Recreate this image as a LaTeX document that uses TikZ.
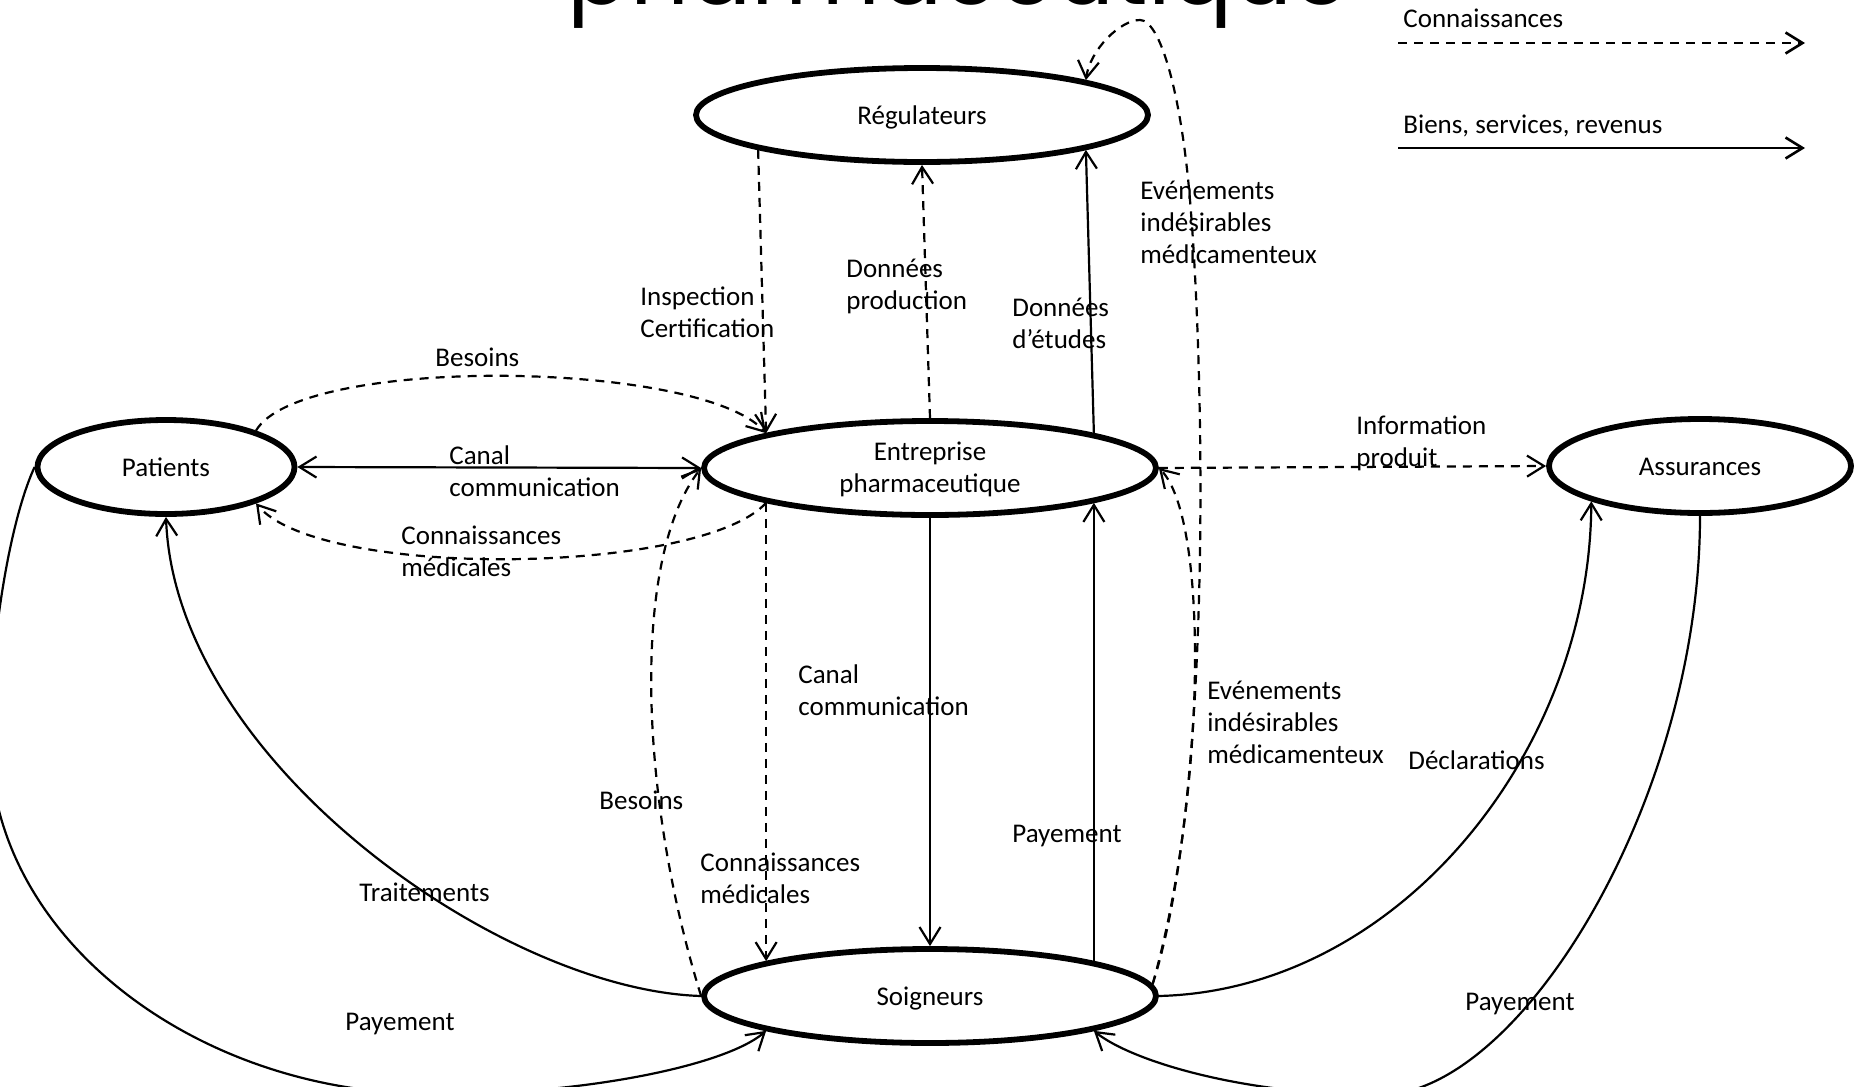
\documentclass[tikz,border=0pt]{standalone}
\usepackage{fontspec}
\setmainfont{Carlito}
\newfontfamily\titlefont{Poppins}
\usetikzlibrary{arrows.meta,shapes.geometric}

\begin{document}
\begin{tikzpicture}[x=0.5pt,y=-0.5pt,
  >={Straight Barb[length=8.5pt,width=10.5pt]},
  actor/.style={ellipse,draw,line width=2.9pt,minimum height=47pt,
    inner sep=0pt,align=center,text height=12.3pt,text depth=2.7pt,
    font=\fontsize{13.5}{16}\selectfont},
  lbl/.style={anchor=west,align=left,inner sep=0pt,
    font=\fontsize{13.5}{16}\selectfont},
  flow/.style={line width=1.1pt,->},
  know/.style={flow,dash pattern=on 4.5pt off 3.5pt},
]
\useasboundingbox (0,0) rectangle (1864,1087);
\fill[white] (0,0) rectangle (1864,1087);
\clip (0,0) rectangle (1864,1087);

% title (only its lower part lies inside the page)
\node[anchor=base,inner sep=0pt] (title) at (958.5,4)
  {\resizebox{390.5pt}{!}{\titlefont pharmaceutique}};

% actors
\node[actor,minimum width=226pt] (reg) at (922,115) {Régulateurs};
\node[actor,minimum width=226pt,text height=27pt] (ent) at (930,468)
  {Entreprise\\pharmaceutique};
\node[actor,minimum width=128.5pt] (pat) at (166,467) {Patients};
\node[actor,minimum width=151pt] (ass) at (1700,466) {Assurances};
\node[actor,minimum width=226pt] (soi) at (930,996) {Soigneurs};

% legend
\coordinate (k0) at (1398,43); \coordinate (k1) at (1805,43);
\coordinate (b0) at (1398,148); \coordinate (b1) at (1805,148);
\draw[know,line width=1.3pt] (k0) -- (k1);
\draw[flow,line width=1.3pt] (b0) -- (b1);
\node[lbl] (kt) at (1403,18) {Connaissances};
\node[lbl] (bt) at (1403,126) {Biens, services, revenus};

% patients <-> company
\draw[flow,<->] (pat.east) -- (ent.west);
\draw[know] (pat.22) .. controls (300,355) and (700,360) .. (ent.168);
\draw[know] (ent.-168) .. controls (700,575) and (320,580) .. (pat.-22);

% company <-> regulators
\draw[know] (reg.-168) -- (ent.168);
\draw[know] (ent.north) -- (reg.south);
\draw[flow] (ent.12) -- (reg.-12);

% adverse events reported by care providers
\draw[know] (soi.3) .. controls (1212,800) and (1205,380) .. (1190,200)
  .. controls (1181,92) and (1160,20) .. (1140,20)
  .. controls (1120,20) and (1090,50) .. (reg.12);
\draw[know] (soi.3) .. controls (1205,800) and (1210,520) .. (ent.east);

% company -> insurers
\draw[know] (ent.east) -- (ass.west);

% company <-> care providers
\draw[flow] (ent.south) -- (soi.north);
\draw[flow] (soi.12) -- (ent.-12);
\draw[know] (soi.west) .. controls (640,800) and (630,560) .. (ent.west);
\draw[know] (ent.-168) -- (soi.168);

% patients <-> care providers
\draw[flow] (soi.west) .. controls (500,990) and (175,760) .. (pat.south);
\draw[flow] (pat.west) .. controls (10,520) and (-10,640) .. (-10,740)
  .. controls (-10,930) and (180,1080) .. (400,1093)
  .. controls (550,1100) and (720,1070) .. (soi.-168);

% care providers <-> insurers
\draw[flow] (soi.east) .. controls (1400,990) and (1590,750) .. (ass.-162);
\draw[flow] (ass.south) .. controls (1700,800) and (1520,1095) .. (1380,1095)
  .. controls (1240,1095) and (1130,1060) .. (soi.-12);

% labels
\node[lbl] (l1) at (449,471) {Canal\\communication};
\node[lbl] (l2) at (435,357) {Besoins};
\node[lbl] (l3) at (401,551) {Connaissances\\médicales};
\node[lbl] (l4) at (640,312) {Inspection\\Certification};
\node[lbl] (l5) at (846,286) {Données\\production};
\node[lbl] (l6) at (1012,323) {Données\\d’études};
\node[lbl] (l7) at (1140,222) {Evénements\\indésirables\\médicamenteux};
\node[lbl] (l8) at (1356,443) {Information\\produit};
\node[lbl] (l9) at (798,690) {Canal\\communication};
\node[lbl] (l10) at (599,800) {Besoins};
\node[lbl] (l11) at (700,878) {Connaissances\\médicales};
\node[lbl] (l12) at (1012,836) {Payement};
\node[lbl] (l13) at (1207,722) {Evénements\\indésirables\\médicamenteux};
\node[lbl] (l14) at (1408,760) {Déclarations};
\node[lbl] (l15) at (359,892) {Traitements};
\node[lbl] (l16) at (345,1024) {Payement};
\node[lbl] (l17) at (1465,1004) {Payement};
\end{tikzpicture}
\end{document}
